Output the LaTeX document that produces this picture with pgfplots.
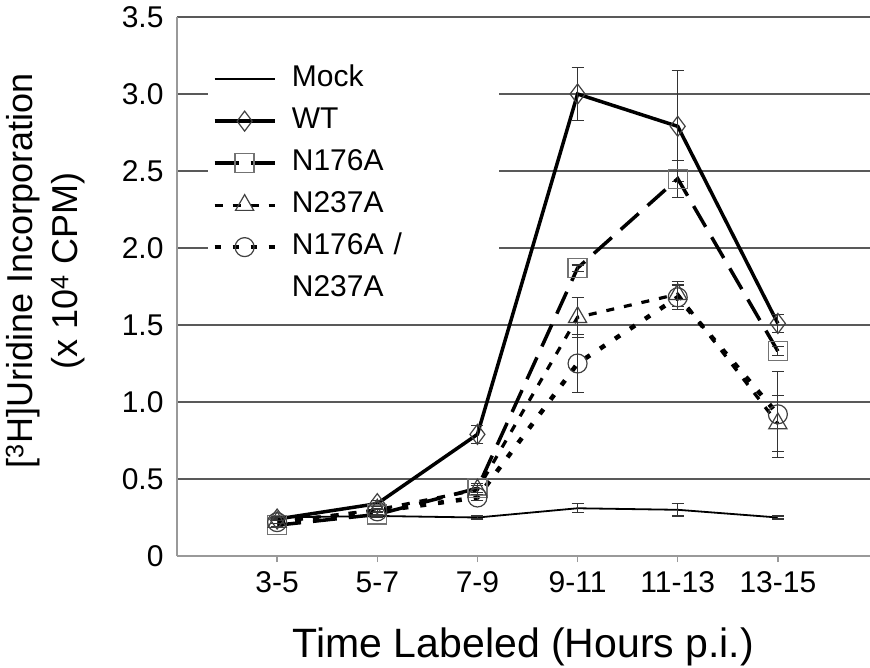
\documentclass[border=0pt]{standalone}
\usepackage{fontspec}
\setmainfont{Liberation Sans}
\usepackage{pgfplots}
\pgfplotsset{compat=1.18}
\begin{document}
\begin{tikzpicture}
\useasboundingbox (-177pt,-111pt) rectangle (693pt,556pt);
\begin{axis}[
  at={(0,0)}, anchor=south west,
  scale only axis, width=693pt, height=539pt,
  xmin=-1, xmax=5.92, ymin=0, ymax=3.5,
  axis x line*=bottom, axis y line*=left,
  axis line style={black!40, line width=2pt},
  xtick={0,1,2,3,4,5},
  xticklabels={3-5,5-7,7-9,9-11,11-13,13-15},
  ytick={0,0.5,1,1.5,2,2.5,3,3.5},
  yticklabels={0,0.5,1.0,1.5,2.0,2.5,3.0,3.5},
  ymajorgrids,
  grid style={black!65, line width=1.5pt},
  tick align=outside,
  major tick length=6pt,
  xtick style={black!40, line width=1.5pt},
  ytick style={draw=none},
  ticklabel style={font=\fontsize{30}{35}\selectfont},
  xticklabel style={anchor=base, yshift=-30pt},
  yticklabel style={anchor=east, xshift=-4pt},
  xlabel={Time Labeled (Hours p.i.)},
  xlabel style={font=\fontsize{41}{49}\selectfont, at={(axis description cs:0.5,-0.1874)}, anchor=base},
  ylabel={[\textsuperscript{3}H]Uridine Incorporation\\(x 10\textsuperscript{4} CPM)},
  ylabel style={font=\fontsize{36}{45}\selectfont, align=center, at={(axis description cs:-0.19,0.529)}, anchor=center},
  legend image code/.code={\draw[mark repeat=2,mark phase=2,#1] plot coordinates {(0pt,0pt) (30pt,0pt) (60pt,0pt)};},
  legend cell align=left,
  legend style={at={(axis description cs:0.045,0.925)}, anchor=north west, draw=none, fill=white,
    font=\fontsize{30}{36}\selectfont, inner sep=4pt, row sep=7pt, /tikz/column sep=12pt,
    nodes={text height=22pt, text depth=7pt, inner sep=3pt, text width=200pt, align=left}},
  every axis plot/.append style={
    /pgfplots/error bars/y dir=both, /pgfplots/error bars/y explicit,
    /pgfplots/error bars/error bar style={line width=1.2pt, black!80, solid},
    /pgfplots/error bars/error mark options={rotate=90, mark size=6pt, line width=1.2pt, black!80, solid}},
]
% Mock
\addplot[black, line width=1.8pt, no markers] table[x=x,y=y,y error=e]{
x y e
0 0.25 0.01
1 0.26 0.01
2 0.25 0.01
3 0.31 0.03
4 0.30 0.04
5 0.25 0.01
};
\addlegendentry{Mock}
% WT
\addplot[black, line width=3.5pt, mark=diamond, mark size=10pt,
  mark options={solid, line width=1.2pt, fill=none, black!75}] table[x=x,y=y,y error=e]{
x y e
0 0.24 0.01
1 0.34 0.02
2 0.79 0.06
3 3.00 0.17
4 2.79 0.36
5 1.51 0.06
};
\addlegendentry{WT}
% N176A
\addplot[black, line width=3.5pt, dash pattern=on 24pt off 12pt, mark=square, mark size=9.5pt,
  mark options={solid, line width=1.3pt, fill=none, black!55}] table[x=x,y=y,y error=e]{
x y e
0 0.20 0.01
1 0.27 0.01
2 0.44 0.03
3 1.87 0.02
4 2.45 0.12
5 1.33 0.03
};
\addlegendentry{N176A}
% N237A
\addplot[black, line width=3.2pt, dash pattern=on 8pt off 10pt, mark=triangle, mark size=10.5pt,
  mark options={solid, line width=1.2pt, fill=none, black!75}] table[x=x,y=y,y error=e]{
x y e
0 0.22 0.01
1 0.30 0.01
2 0.43 0.03
3 1.55 0.13
4 1.70 0.08
5 0.86 0.18
};
\addlegendentry{N237A}
% N176A/N237A
\addplot[black, line width=4.5pt, dash pattern=on 6pt off 12pt, mark=o, mark size=9.5pt,
  mark options={solid, line width=1.2pt, fill=none, black!75}] table[x=x,y=y,y error=e]{
x y e
0 0.22 0.01
1 0.29 0.01
2 0.38 0.02
3 1.25 0.19
4 1.68 0.08
5 0.92 0.28
};
\addlegendentry{N176A /}
\addlegendimage{empty legend}
\addlegendentry{N237A}
\end{axis}
\end{tikzpicture}
\end{document}
